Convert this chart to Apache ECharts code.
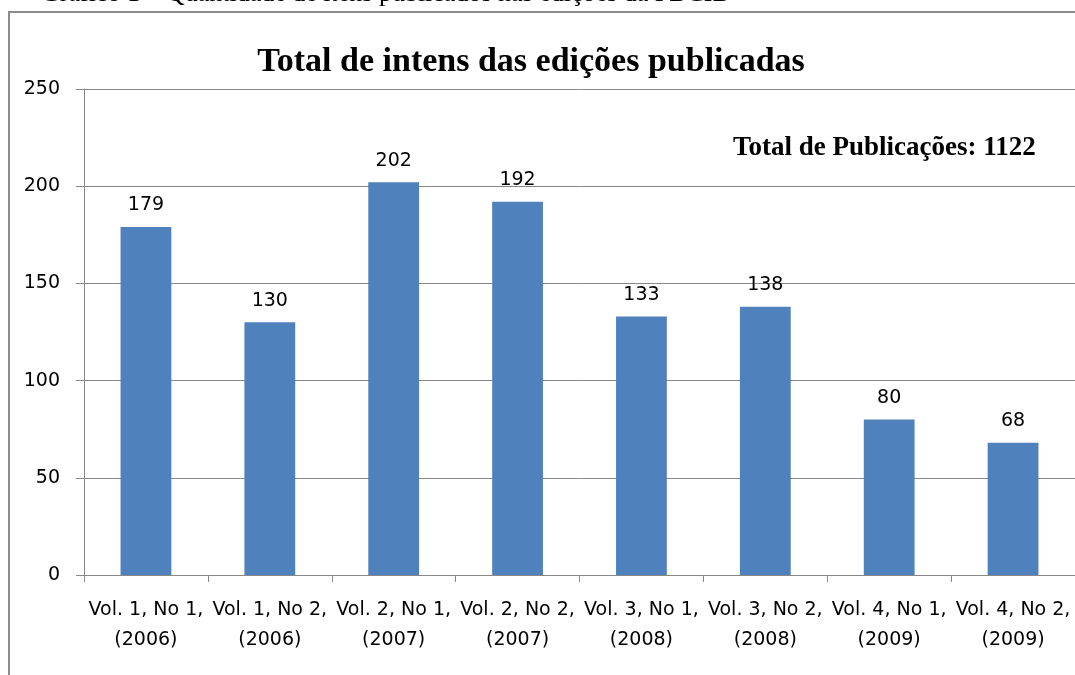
<!DOCTYPE html>
<html>
<head>
<meta charset="utf-8">
<style>
  html, body { margin: 0; padding: 0; background: #fff; }
  #chart { width: 1075px; height: 675px; }
</style>
<script src="https://cdn.jsdelivr.net/npm/echarts@6/dist/echarts.min.js"></script>
</head>
<body>
<div id="chart"></div>
<script>
// dados
var edicoes = [
  'Vol. 1, No 1,\n(2006)', 'Vol. 1, No 2,\n(2006)', 'Vol. 2, No 1,\n(2007)', 'Vol. 2, No 2,\n(2007)',
  'Vol. 3, No 1,\n(2008)', 'Vol. 3, No 2,\n(2008)', 'Vol. 4, No 1,\n(2009)', 'Vol. 4, No 2,\n(2009)'
]
var totalItens = [179, 130, 202, 192, 133, 138, 80, 68]
var totalPublicacoes = 1122

var chart = echarts.init(document.getElementById('chart'))
chart.setOption({
  animation: false,
  title: {
    text: 'Total de intens das edições publicadas',
    left: 526,
    top: 40,
    textAlign: 'center',
    textStyle: { fontFamily: 'Liberation Serif', fontWeight: 'bold', fontSize: 34, color: '#000' }
  },
  graphic: [
    {
      // legenda do gráfico, cortada no topo da imagem
      type: 'text',
      left: 41,
      top: -19,
      style: { text: 'Gráfico 1 – Quantidade de itens publicados nas edições da PBCIB', font: '26px "Liberation Serif"', fill: '#000' }
    },
    {
      type: 'rect',
      shape: { x: 9, y: 12, width: 1100, height: 700 },
      style: { fill: 'none', stroke: '#8c8c8c', lineWidth: 2 }
    },
    {
      type: 'text',
      left: 733,
      top: 135,
      style: { text: 'Total de Publicações: ' + totalPublicacoes, font: 'bold 27px "Liberation Serif"', fill: '#000' }
    }
  ],
  grid: { left: 84, right: -6, top: 89, bottom: 100 },
  xAxis: {
    type: 'category',
    data: edicoes,
    axisLine: { lineStyle: { color: '#888', width: 1 } },
    axisTick: { show: true, length: 7, lineStyle: { color: '#888' } },
    axisLabel: { color: '#000', fontFamily: 'DejaVu Sans', fontSize: 19, lineHeight: 30, margin: 20, interval: 0 }
  },
  yAxis: {
    type: 'value',
    min: 0,
    max: 250,
    interval: 50,
    axisLine: { show: true, lineStyle: { color: '#888' } },
    axisTick: { show: true, inside: false, length: 8, lineStyle: { color: '#888' } },
    splitLine: { lineStyle: { color: '#888' } },
    axisLabel: { color: '#000', fontFamily: 'DejaVu Sans', fontSize: 19, margin: 24 }
  },
  series: [
    {
      name: 'Itens',
      type: 'bar',
      data: totalItens,
      barWidth: '41%',
      itemStyle: { color: '#4F81BD' },
      label: {
        show: true,
        position: 'top',
        distance: 12,
        color: '#000',
        fontFamily: 'DejaVu Sans',
        fontSize: 19
      }
    }
  ]
})
</script>
</body>
</html>
